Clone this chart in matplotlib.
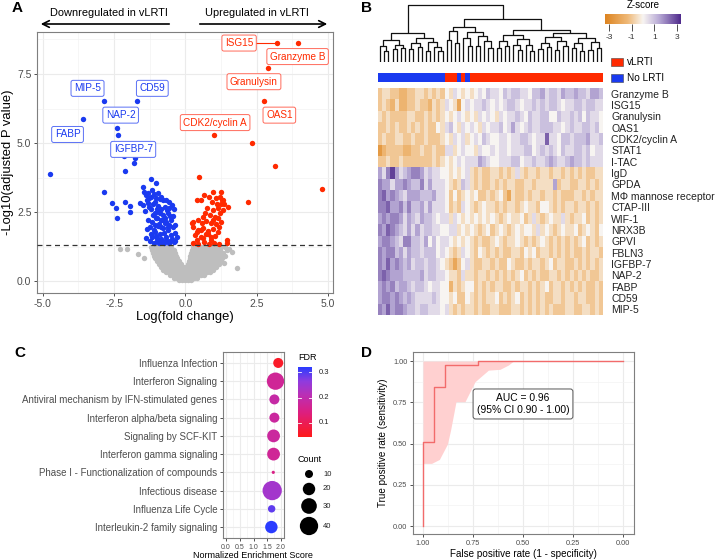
import matplotlib
matplotlib.use('Agg')
import matplotlib.pyplot as plt
import numpy as np
from matplotlib.colors import LinearSegmentedColormap, Normalize, ListedColormap
from matplotlib.patches import Rectangle, Ellipse, FancyArrowPatch

plt.rcParams['font.family'] = ['Liberation Sans', 'DejaVu Sans']

# ---------------- DATA ----------------
# Panel A: labelled genes
up_genes = ["ISG15", "Granzyme B", "Granulysin", "OAS1", "CDK2/cyclin A"]
up_fc = [3.21, 3.95, 2.89, 2.75, 1.00]
up_p = [8.62, 8.62, 7.72, 6.52, 5.29]
down_genes = ["MIP-5", "CD59", "FABP", "NAP-2", "IGFBP-7"]
down_fc = [-2.86, -1.70, -3.60, -2.40, -2.16]
down_p = [6.52, 6.52, 5.86, 5.54, 4.53]

# other significant up-regulated proteins
red_x = [2.33, 3.14, 4.79, 2.20, 0.47, 0.39, 0.65, 0.98, 1.23, 0.84, 1.08, 1.21, 1.27, 0.92, 1.10, 1.23, 1.50,
         0.75, 0.98, 1.15, 0.86, 1.04, 1.21, 0.28, 0.45, 0.57, 0.73, 0.89, 1.08, 1.23, 0.26, 0.43, 0.61, 0.78,
         0.96, 1.13, 0.35, 0.53, 0.71, 0.89, 1.05, 0.28, 0.45, 0.65, 0.84, 1.01, 1.16, 1.44, 1.46, 0.53, 0.80,
         0.63, 1.15, 1.33, 0.22, 0.39, 1.30, 1.35, 0.55, 0.70, 0.95, 1.18, 0.40, 0.62, 0.88]
red_y = [4.99, 4.17, 3.33, 2.86, 3.77, 2.93, 3.11, 3.23, 3.23, 3.05, 3.02, 3.05, 2.93, 2.87, 2.81, 2.79, 2.69,
         2.63, 2.57, 2.63, 2.39, 2.33, 2.45, 2.15, 2.21, 2.09, 2.18, 2.11, 2.06, 2.15, 1.97, 1.85, 1.91, 1.82,
         1.87, 1.79, 1.67, 1.61, 1.71, 1.59, 1.64, 1.39, 1.36, 1.43, 1.36, 1.39, 1.33, 1.49, 1.38, 1.85, 1.72,
         2.33, 2.27, 2.57, 2.09, 1.49, 2.95, 2.80, 2.93, 2.45, 2.20, 1.95, 1.78, 1.55, 1.50]

# other significant down-regulated proteins
blue_x = [-2.37, -1.75, -1.80, -2.10, -4.75, -2.86, -2.56, -2.42, -2.38, -2.10, -1.95, -1.93,
          -1.22, -1.04, -1.48, -1.45, -1.39, -1.31, -1.20, -1.02, -0.90, -0.79, -0.67, -1.60, -1.50, -1.31,
          -1.13, -0.95, -0.56, -0.39, -1.20, -1.08, -0.93, -0.77, -0.62, -0.44, -0.50, -0.67, -0.84, -1.02,
          -1.16, -1.25, -1.11, -0.96, -0.79, -0.61, -0.44, -0.35, -0.50, -0.67, -0.84, -1.01, -1.16, -1.11,
          -0.93, -0.74, -0.56, -0.40, -1.35, -1.28, -1.05, -0.85, -0.72, -1.15, -0.98, -0.88, -0.70, -0.58,
          -0.92, -1.08, -1.30, -0.75, -0.90, -1.05, -1.22, -0.62, -0.55, -0.68, -0.82, -0.98, -1.25, -1.02,
          -0.48, -0.35, -0.38, -0.30, -1.40, -1.18, -1.10, -0.95, -0.85, -0.58, -0.48, -0.78, -0.64, -1.35,
          -1.38, -0.86, -0.72, -1.00, -0.55, -1.28]
blue_y = [5.29, 4.45, 4.28, 3.99, 3.88, 3.24, 2.82, 2.63, 2.27, 2.88, 2.72, 2.52,
          3.69, 3.56, 3.39, 3.24, 3.12, 3.18, 3.06, 3.00, 2.97, 2.94, 2.94, 2.82, 2.76, 2.82,
          2.80, 2.72, 2.64, 2.60, 2.60, 2.46, 2.52, 2.39, 2.46, 2.34, 2.21, 2.15, 2.21, 2.27,
          2.15, 1.97, 1.85, 1.99, 1.91, 1.85, 1.97, 1.73, 1.67, 1.58, 1.51, 1.55, 1.61, 1.39,
          1.37, 1.39, 1.37, 1.40, 2.95, 2.70, 2.85, 2.60, 2.70, 2.40, 2.30, 2.45, 2.28, 2.05,
          2.08, 2.05, 2.20, 1.75, 1.70, 1.78, 1.70, 1.95, 1.45, 1.48, 1.42, 1.45, 1.45, 1.62,
          1.52, 1.45, 2.05, 1.60, 2.55, 3.30, 3.15, 3.20, 3.05, 2.85, 2.75, 2.22, 2.58, 1.90,
          1.55, 1.95, 2.10, 2.62, 2.35, 3.00]

# non-significant proteins (rows of the grey cloud)
gray_rows_y = [0.03, 0.12, 0.22, 0.32, 0.42, 0.52, 0.62, 0.72, 0.82, 0.92, 1.02, 1.12, 1.22]
gray_rows_x = [
    [-0.22, -0.12, -0.02, 0.08, 0.18],
    [-0.40, -0.30, -0.20, -0.10, 0.00, 0.10, 0.20, 0.30, 0.40],
    [-0.55, -0.45, -0.35, -0.25, -0.15, -0.05, 0.05, 0.15, 0.25, 0.35, 0.45, 0.55, 0.65],
    [-0.68, -0.57, -0.46, -0.35, -0.24, -0.13, -0.02, 0.09, 0.20, 0.31, 0.42, 0.53, 0.64, 0.75, 0.85],
    [-0.78, -0.67, -0.56, -0.45, -0.34, -0.23, -0.12, 0.00, 0.12, 0.24, 0.36, 0.48, 0.60, 0.72, 0.84, 0.96],
    [-0.86, -0.75, -0.64, -0.53, -0.42, -0.31, -0.20, -0.09, 0.03, 0.15, 0.27, 0.39, 0.51, 0.63, 0.75, 0.87, 0.99, 1.08],
    [-0.94, -0.83, -0.72, -0.61, -0.50, -0.39, -0.28, -0.17, 0.08, 0.19, 0.30, 0.41, 0.52, 0.63, 0.74, 0.85, 0.96, 1.07, 1.18],
    [-1.00, -0.89, -0.78, -0.67, -0.56, -0.45, -0.34, -0.23, 0.12, 0.23, 0.34, 0.45, 0.56, 0.67, 0.78, 0.89, 1.00, 1.11, 1.24],
    [-1.05, -0.94, -0.83, -0.72, -0.61, -0.50, -0.39, -0.28, 0.15, 0.26, 0.37, 0.48, 0.59, 0.70, 0.81, 0.92, 1.03, 1.14, 1.28],
    [-1.10, -0.99, -0.88, -0.77, -0.66, -0.55, -0.44, -0.32, 0.17, 0.28, 0.39, 0.50, 0.61, 0.72, 0.83, 0.94, 1.05, 1.16, 1.30, 1.40],
    [-1.14, -1.03, -0.92, -0.81, -0.70, -0.59, -0.48, -0.37, 0.19, 0.30, 0.41, 0.52, 0.63, 0.74, 0.85, 0.96, 1.07, 1.18, 1.32],
    [-1.18, -1.07, -0.96, -0.85, -0.74, -0.63, -0.52, -0.40, 0.22, 0.33, 0.44, 0.55, 0.66, 0.77, 0.88, 0.99, 1.10, 1.22, 1.45],
    [-1.22, -1.10, -0.98, -0.86, -0.74, -0.62, -0.50, 0.26, 0.38, 0.50, 0.62, 0.74, 0.86, 0.98, 1.10, 1.25, 1.40],
]
gray_out_x = [-2.30, -2.03, -1.65, 1.81, 1.53, 1.62, -1.45, 1.35]
gray_out_y = [1.18, 1.18, 0.97, 0.46, 1.15, 1.05, 0.85, 0.65]

x_ticks_A = [-5.0, -2.5, 0.0, 2.5, 5.0]
x_ticklabels_A = ["-5.0", "-2.5", "0.0", "2.5", "5.0"]
y_ticks_A = [0.0, 2.5, 5.0, 7.5]
y_ticklabels_A = ["0.0", "2.5", "5.0", "7.5"]

# Panel B: heatmap
heat_rows = ["Granzyme B", "ISG15", "Granulysin", "OAS1", "CDK2/cyclin A", "STAT1", "I-TAC", "IgD", "GPDA",
             "M\u03a6 mannose receptor", "CTAP-III", "WIF-1", "NRX3B", "GPVI", "FBLN3", "IGFBP-7", "NAP-2",
             "FABP", "CD59", "MIP-5"]
# z-score levels: a=-3.0, b=-2.5, ... g=0, ... m=+3.0
heat_codes = [
    "effeedde effefefe gfhgfg fghgihhg ihiihhgi ijhiihji ijiihjji",
    "efedfdde efeedfef hgfcgh ghhihghg hiihghhi hihiihgh hiihiihh",
    "fefeeeef feefefef gfghgf gfhghgfh ghhihgih hiiggihh ihigihhg",
    "eefefeef efefeegf higfhg hgfhghhi ghjhghih hiiihhgh ihhiihig",
    "efeeffee feefeeef gfhghf ghgihggh hghhiihg hhlhhgii hiiijhhi",
    "bdeeeedd eefeefee hhfghg gfhgghgh hghhhiig hihihgih hiihighh",
    "eefeefee eeeeefef gfghgh hhjihggh hhiighhi hhijihhi jiihihhh",
    "jhkmjhij kkjhihhg gfgfgh fefeeffe fefhfeff effeffef efefeeff",
    "kjjhjjkj iikhjhhh gfefih fefeefef effeeffe ffffjeff eeffefef",
    "kljkjihj jjiiijhh gegefg fgeefefg ecfeefef feffefee effefeff",
    "kkljjkik iijhjhhh gefehg fefgffef effefgff eggfefef feffefef",
    "jkjkkjhj ihjiihgh hfhgfg fgfgfgfe fgffgefh fefgffhf effgefef",
    "kjlkjihj hjhiihhg ghhfgf gfefgefg fefgfggf hfgfefgf fgefgfeg",
    "jkkjihkk iihjgigh hgfgfg fefeefgf effgfefe fgfefefe fefgefef",
    "kjkkijhj iihiiigh gfefhg fegfefef eeffegfg effefefe feefeffe",
    "kjljkjij hiihiihg fecegh feeffefe egfeefef fefgeffe efefefef",
    "klkjjjii iijhiihh gffehf feffefef efefgefe feeffefe fefefeef",
    "jkjkijji hiihghhg gdfefg gefefeff eefeffef efgeffef efefeefe",
    "jkkjkjij ihhhhihg gfgeeg fefeffge fefgefef efeeffef feffeefe",
    "kjljkkji ihiihhhg hfefef fefeeffe eeffefef efefeeef feeffefe",
]
# sample groups in column order (0 = No LRTI, 1 = vLRTI)
sample_group = "0000000000000000 111010 11111111 11111111 11111111 11111111"
zscore_ticks = [-3, -1, 1, 3]

# dendrogram: (height, left, right), leaves are column indices
den_L = (0.51,
         (0.38, (0.28, 0, (0.20, 1, 2)), (0.30, (0.22, 3, 4), (0.24, 5, 6))),
         (0.42, (0.33, (0.22, 7, 8), (0.26, 9, 10)), (0.35, (0.20, 11, 12), (0.27, 13, (0.19, 14, 15)))))
den_A = (0.61,
         (0.55, (0.38, 16, 17), (0.33, 18, 19)),
         (0.52, (0.42, 20, (0.28, 21, 22)), (0.46, (0.28, 23, 24), (0.37, 25, (0.24, 26, 27)))))
den_B = (0.56,
         (0.47, (0.36, (0.24, 28, 29), (0.28, 30, 31)), (0.40, (0.30, 32, (0.21, 33, 34)), (0.29, 35, (0.20, 36, 37)))),
         (0.50, (0.43, (0.34, (0.23, 38, 39), (0.26, 40, 41)), (0.36, (0.21, 42, 43), (0.28, 44, 45))),
          (0.42, (0.33, (0.24, 46, 47), (0.20, 48, 49)), (0.35, (0.21, 50, 51), (0.25, 52, 53)))))
den_root = (1.0, den_L, (0.75, den_A, den_B))

# Panel C
pathways = ["Influenza Infection", "Interferon Signaling", "Antiviral mechanism by IFN-stimulated genes",
            "Interferon alpha/beta signaling", "Signaling by SCF-KIT", "Interferon gamma signaling",
            "Phase I - Functionalization of compounds", "Infectious disease", "Influenza Life Cycle",
            "Interleukin-2 family signaling"]
nes = [1.90, 1.80, 1.76, 1.76, 1.73, 1.73, 1.72, 1.68, 1.66, 1.65]
counts = [14, 36, 14, 14, 21, 21, 4, 44, 9, 20]
fdr = [0.06, 0.17, 0.19, 0.18, 0.18, 0.17, 0.15, 0.24, 0.29, 0.32]
nes_ticks = [0.0, 0.5, 1.0, 1.5, 2.0]
fdr_ticks = [0.1, 0.2, 0.3]
count_legend = [10, 20, 30, 40]

# Panel D
roc_spec = [1.0, 1.0, 0.945, 0.945, 0.89, 0.89, 0.725, 0.725, 0.0]
roc_sens = [0.0, 0.51, 0.51, 0.84, 0.84, 0.975, 0.975, 1.0, 1.0]
ci_spec = [1.0, 0.957, 0.918, 0.878, 0.862, 0.835, 0.79, 0.74, 0.673, 0.615, 0.573, 0.548]
ci_lower = [0.38, 0.38, 0.404, 0.497, 0.582, 0.754, 0.754, 0.875, 0.945, 0.95, 0.976, 1.0]
ci_upper = [1.0] * 12
roc_ticks = [0.0, 0.25, 0.5, 0.75, 1.0]
roc_ticklabels = ["0.00", "0.25", "0.50", "0.75", "1.00"]

# ---------------- FIGURE ----------------
W, H = 720, 560
fig = plt.figure(figsize=(7.2, 5.6), dpi=100)


def ax_px(L, T, R, B):
    return fig.add_axes([L / W, 1 - B / H, (R - L) / W, (B - T) / H])


def ftext(x, y, s, **kw):
    fig.text(x / W, 1 - y / H, s, **kw)


RED = '#FF2A00'
BLUE = '#1A3AF0'
GRID = '#EBEBEB'
TICKC = '#4D4D4D'


def bw_style(ax, labelsize):
    for sp in ax.spines.values():
        sp.set_color('#7F7F7F')
        sp.set_linewidth(0.8)
    ax.grid(which='major', color=GRID, lw=0.8)
    ax.grid(which='minor', color='#F3F3F3', lw=0.5)
    ax.set_axisbelow(True)
    ax.tick_params(which='major', length=2.5, width=0.6, color='#333333', labelsize=labelsize,
                   labelcolor=TICKC, pad=1.5)
    ax.tick_params(which='minor', length=0)


# ---- Panel A ----
axA = ax_px(37, 32, 333, 293)
axA.set_xlim(-5.2, 5.17)
axA.set_ylim(-0.43, 9.02)
bw_style(axA, 7.5)
axA.set_xticks(x_ticks_A)
axA.set_xticklabels(x_ticklabels_A)
axA.set_yticks(y_ticks_A)
axA.set_yticklabels(y_ticklabels_A)
axA.set_xticks([-3.75, -1.25, 1.25, 3.75], minor=True)
axA.set_yticks([1.25, 3.75, 6.25, 8.75], minor=True)

ms = 15
for yv, xs in zip(gray_rows_y, gray_rows_x):
    axA.scatter(xs, [yv] * len(xs), s=ms, color='#BEBEBE', lw=0, zorder=2)
axA.scatter(gray_out_x, gray_out_y, s=ms, color='#BEBEBE', lw=0, zorder=2)
axA.scatter(blue_x, blue_y, s=ms, color=BLUE, lw=0, zorder=3)
axA.scatter(down_fc, down_p, s=ms, color=BLUE, lw=0, zorder=3)
axA.scatter(red_x, red_y, s=ms, color=RED, lw=0, zorder=3)
axA.scatter(up_fc, up_p, s=ms, color=RED, lw=0, zorder=3)
axA.axhline(1.3, color='#333333', ls=(0, (4, 3)), lw=0.9, zorder=4)

up_label_pos = [(1.88, 8.62), (3.93, 8.13), (2.40, 7.22), (3.29, 6.01), (1.04, 5.74)]
down_label_pos = [(-3.43, 6.98), (-1.16, 6.98), (-4.13, 5.31), (-2.27, 6.01), (-1.83, 4.77)]
for g, (lx, ly) in zip(up_genes, up_label_pos):
    axA.text(lx, ly, g, color=RED, fontsize=7.2, ha='center', va='center', zorder=6,
             bbox=dict(boxstyle='round,pad=0.3,rounding_size=0.2', fc='white', ec='#FF6A5A', lw=0.7))
for g, (lx, ly) in zip(down_genes, down_label_pos):
    axA.text(lx, ly, g, color=BLUE, fontsize=7.2, ha='center', va='center', zorder=6,
             bbox=dict(boxstyle='round,pad=0.3,rounding_size=0.2', fc='white', ec='#5A70F5', lw=0.7))
# connector for ISG15
axA.plot([2.35, up_fc[0]], [8.62, up_p[0]], color=RED, lw=0.8, zorder=5)

ftext(185, 317, "Log(fold change)", fontsize=9.4, ha='center', va='center')
ftext(8, 162, "-Log10(adjusted P value)", fontsize=9.4, ha='center', va='center', rotation=90)

# arrows above
fig.add_artist(FancyArrowPatch((172 / W, 1 - 24 / H), (38 / W, 1 - 24 / H), transform=fig.transFigure,
                               arrowstyle='->', mutation_scale=12, lw=1.2, color='black'))
fig.add_artist(FancyArrowPatch((197 / W, 1 - 24 / H), (330 / W, 1 - 24 / H), transform=fig.transFigure,
                               arrowstyle='->', mutation_scale=12, lw=1.2, color='black'))
ftext(109, 13, "Downregulated in vLRTI", fontsize=7.9, ha='center', va='center')
ftext(257, 13, "Upregulated in vLRTI", fontsize=7.9, ha='center', va='center')

# ---- Panel B ----
codes = [r.replace(' ', '') for r in heat_codes]
Z = np.array([[-3.0 + 0.5 * (ord(c) - ord('a')) for c in r] for r in codes])
ncol = Z.shape[1]
heat_cmap = LinearSegmentedColormap.from_list('zs', [(0.0, '#DD8420'), (0.3, '#EFB978'), (0.5, '#F8F5F2'),
                                                      (0.7, '#BCAFD8'), (1.0, '#4F2A8C')])
znorm = Normalize(-3.35, 3.35)

axH = ax_px(378, 88, 603, 315)
axH.imshow(Z, cmap=heat_cmap, norm=znorm, aspect='auto', interpolation='nearest',
           extent=(-0.5, ncol - 0.5, len(heat_rows) - 0.5, -0.5))
axH.set_xlim(-0.5, ncol - 0.5)
axH.set_ylim(len(heat_rows) - 0.5, -0.5)
axH.set_xticks([])
axH.yaxis.tick_right()
axH.set_yticks(range(len(heat_rows)))
axH.set_yticklabels(heat_rows)
axH.tick_params(axis='y', length=0, pad=6, labelsize=7.5, labelcolor='#222222')
for sp in axH.spines.values():
    sp.set_visible(False)

# group colour bar
grp = np.array([[int(c) for c in sample_group.replace(' ', '')]])
axG = ax_px(378, 73, 603, 82)
axG.imshow(grp, cmap=ListedColormap([BLUE, RED]), vmin=0, vmax=1, aspect='auto', interpolation='nearest',
           extent=(-0.5, ncol - 0.5, 0, 1))
axG.set_xlim(-0.5, ncol - 0.5)
axG.axis('off')

# dendrogram
axD0 = ax_px(378, 3, 603, 62)
axD0.set_xlim(-0.5, ncol - 0.5)
axD0.set_ylim(0, 1.035)
axD0.axis('off')


def draw_node(node):
    if isinstance(node, int):
        return float(node), 0.0
    h, left, right = node
    xl, hl = draw_node(left)
    xr, hr = draw_node(right)
    axD0.plot([xl, xl, xr, xr], [hl, h, h, hr], color='#111111', lw=0.9, solid_capstyle='butt')
    return (xl + xr) / 2, h


draw_node(den_root)

# z-score colorbar
axZ = ax_px(605, 14, 681, 24)
grad = np.linspace(-3.35, 3.35, 256).reshape(1, -1)
axZ.imshow(grad, cmap=heat_cmap, norm=znorm, aspect='auto', extent=(-3.35, 3.35, 0, 1))
axZ.set_xlim(-3.35, 3.35)
axZ.set_yticks([])
axZ.set_xticks(zscore_ticks)
axZ.set_xticklabels([str(t) for t in zscore_ticks])
axZ.tick_params(axis='x', length=5, width=0.6, color='#333333', labelsize=6, pad=2.5, labelcolor='#333333')
for sp in axZ.spines.values():
    sp.set_visible(False)
ftext(643, 5, "Z-score", fontsize=7, ha='center', va='center')

# group legend
fig.add_artist(Rectangle((611 / W, 1 - 66 / H), 12 / W, 8 / H, transform=fig.transFigure, fc=RED,
                         ec='#444444', lw=0.4))
fig.add_artist(Rectangle((611 / W, 1 - 82 / H), 12 / W, 8 / H, transform=fig.transFigure, fc=BLUE,
                         ec='#444444', lw=0.4))
ftext(627, 62, "vLRTI", fontsize=7.2, ha='left', va='center')
ftext(627, 78, "No LRTI", fontsize=7.2, ha='left', va='center')

# ---- Panel C ----
fdr_cmap = LinearSegmentedColormap.from_list('fdr', [(0.0, '#FF1A1A'), (0.35, '#DD1F80'), (0.6, '#BB2FB5'),
                                                      (0.8, '#8F3CDF'), (1.0, '#2A3CFF')])
fnorm = Normalize(0.045, 0.32)

axC = ax_px(223, 352, 284, 538)
axC.set_xlim(-0.11, 2.11)
axC.set_ylim(0.4, 10.6)
bw_style(axC, 5)
ypos = [len(pathways) - i for i in range(len(pathways))]


def count_to_d(c):
    return np.sqrt(max(9.03 * c - 26, 6.0))


axC.scatter(nes, ypos, s=[(count_to_d(c) * 0.72) ** 2 for c in counts], c=fdr, cmap=fdr_cmap, norm=fnorm,
            lw=0, zorder=3)
axC.set_yticks(ypos)
axC.set_yticklabels(pathways)
axC.tick_params(axis='y', labelsize=7, pad=1.5)
axC.set_xticks(nes_ticks)
axC.set_xticklabels(["0.0", "0.5", "1.0", "1.5", "2.0"])
axC.set_xticks([0.25, 0.75, 1.25, 1.75], minor=True)
ftext(253, 555, "Normalized Enrichment Score", fontsize=6.5, ha='center', va='center')

# FDR colourbar
axF = ax_px(298, 367, 312, 437)
fgrad = np.linspace(0.045, 0.32, 256).reshape(-1, 1)
axF.imshow(fgrad, cmap=fdr_cmap, norm=fnorm, aspect='auto', origin='lower', extent=(0, 1, 0.045, 0.32))
axF.set_ylim(0.045, 0.32)
axF.set_xlim(0, 1)
axF.set_xticks([])
axF.set_yticks([])
for sp in axF.spines.values():
    sp.set_visible(False)
for t in fdr_ticks:
    axF.plot([0, 0.2], [t, t], color='white', lw=0.6)
    axF.plot([0.8, 1], [t, t], color='white', lw=0.6)
    axF.text(1.45, t, "%.1f" % t, transform=axF.transData, fontsize=5.5, va='center', ha='left',
             color='#222222', clip_on=False)
ftext(298, 358, "FDR", fontsize=6.5, ha='left', va='center')

# Count legend
ftext(298, 459, "Count", fontsize=6.5, ha='left', va='center')
cl_y = [474, 489, 506, 526]
for c, yy in zip(count_legend, cl_y):
    d = count_to_d(c)
    fig.add_artist(Ellipse((309 / W, 1 - yy / H), d / W, d / H, transform=fig.transFigure,
                           fc='black', ec='none'))
    ftext(323, yy, str(c), fontsize=5.5, ha='left', va='center', color='#222222')

# ---- Panel D ----
axR = ax_px(413, 352, 634, 534)
axR.set_xlim(1.05, -0.055)
axR.set_ylim(-0.048, 1.055)
bw_style(axR, 5.3)
axR.set_xticks(roc_ticks)
axR.set_xticklabels(roc_ticklabels)
axR.set_yticks(roc_ticks)
axR.set_yticklabels(roc_ticklabels)
axR.set_xticks([0.125, 0.375, 0.625, 0.875], minor=True)
axR.set_yticks([0.125, 0.375, 0.625, 0.875], minor=True)
axR.fill_between(ci_spec, ci_lower, ci_upper, color='#FFD0D0', lw=0, zorder=2)
axR.plot(roc_spec, roc_sens, color='#F26B6B', lw=1.0, zorder=3)
axR.text(0.5, 0.74, "AUC = 0.96\n(95% CI 0.90 - 1.00)", fontsize=7.4, ha='center', va='center',
         linespacing=1.35, zorder=5,
         bbox=dict(boxstyle='round,pad=0.35,rounding_size=0.25', fc='white', ec='#555555', lw=0.7))
ftext(523, 554, "False positive rate (1 - specificity)", fontsize=7.1, ha='center', va='center')
ftext(383, 443, "True positive rate (sensitivity)", fontsize=7.1, ha='center', va='center', rotation=90)

# panel letters
for letter, (x, y) in zip("ABCD", [(17, 8), (367, 8), (20, 353), (367, 353)]):
    ftext(x, y, letter, fontsize=11, fontweight='bold', ha='center', va='center')

fig.savefig('out.png', dpi=100)
